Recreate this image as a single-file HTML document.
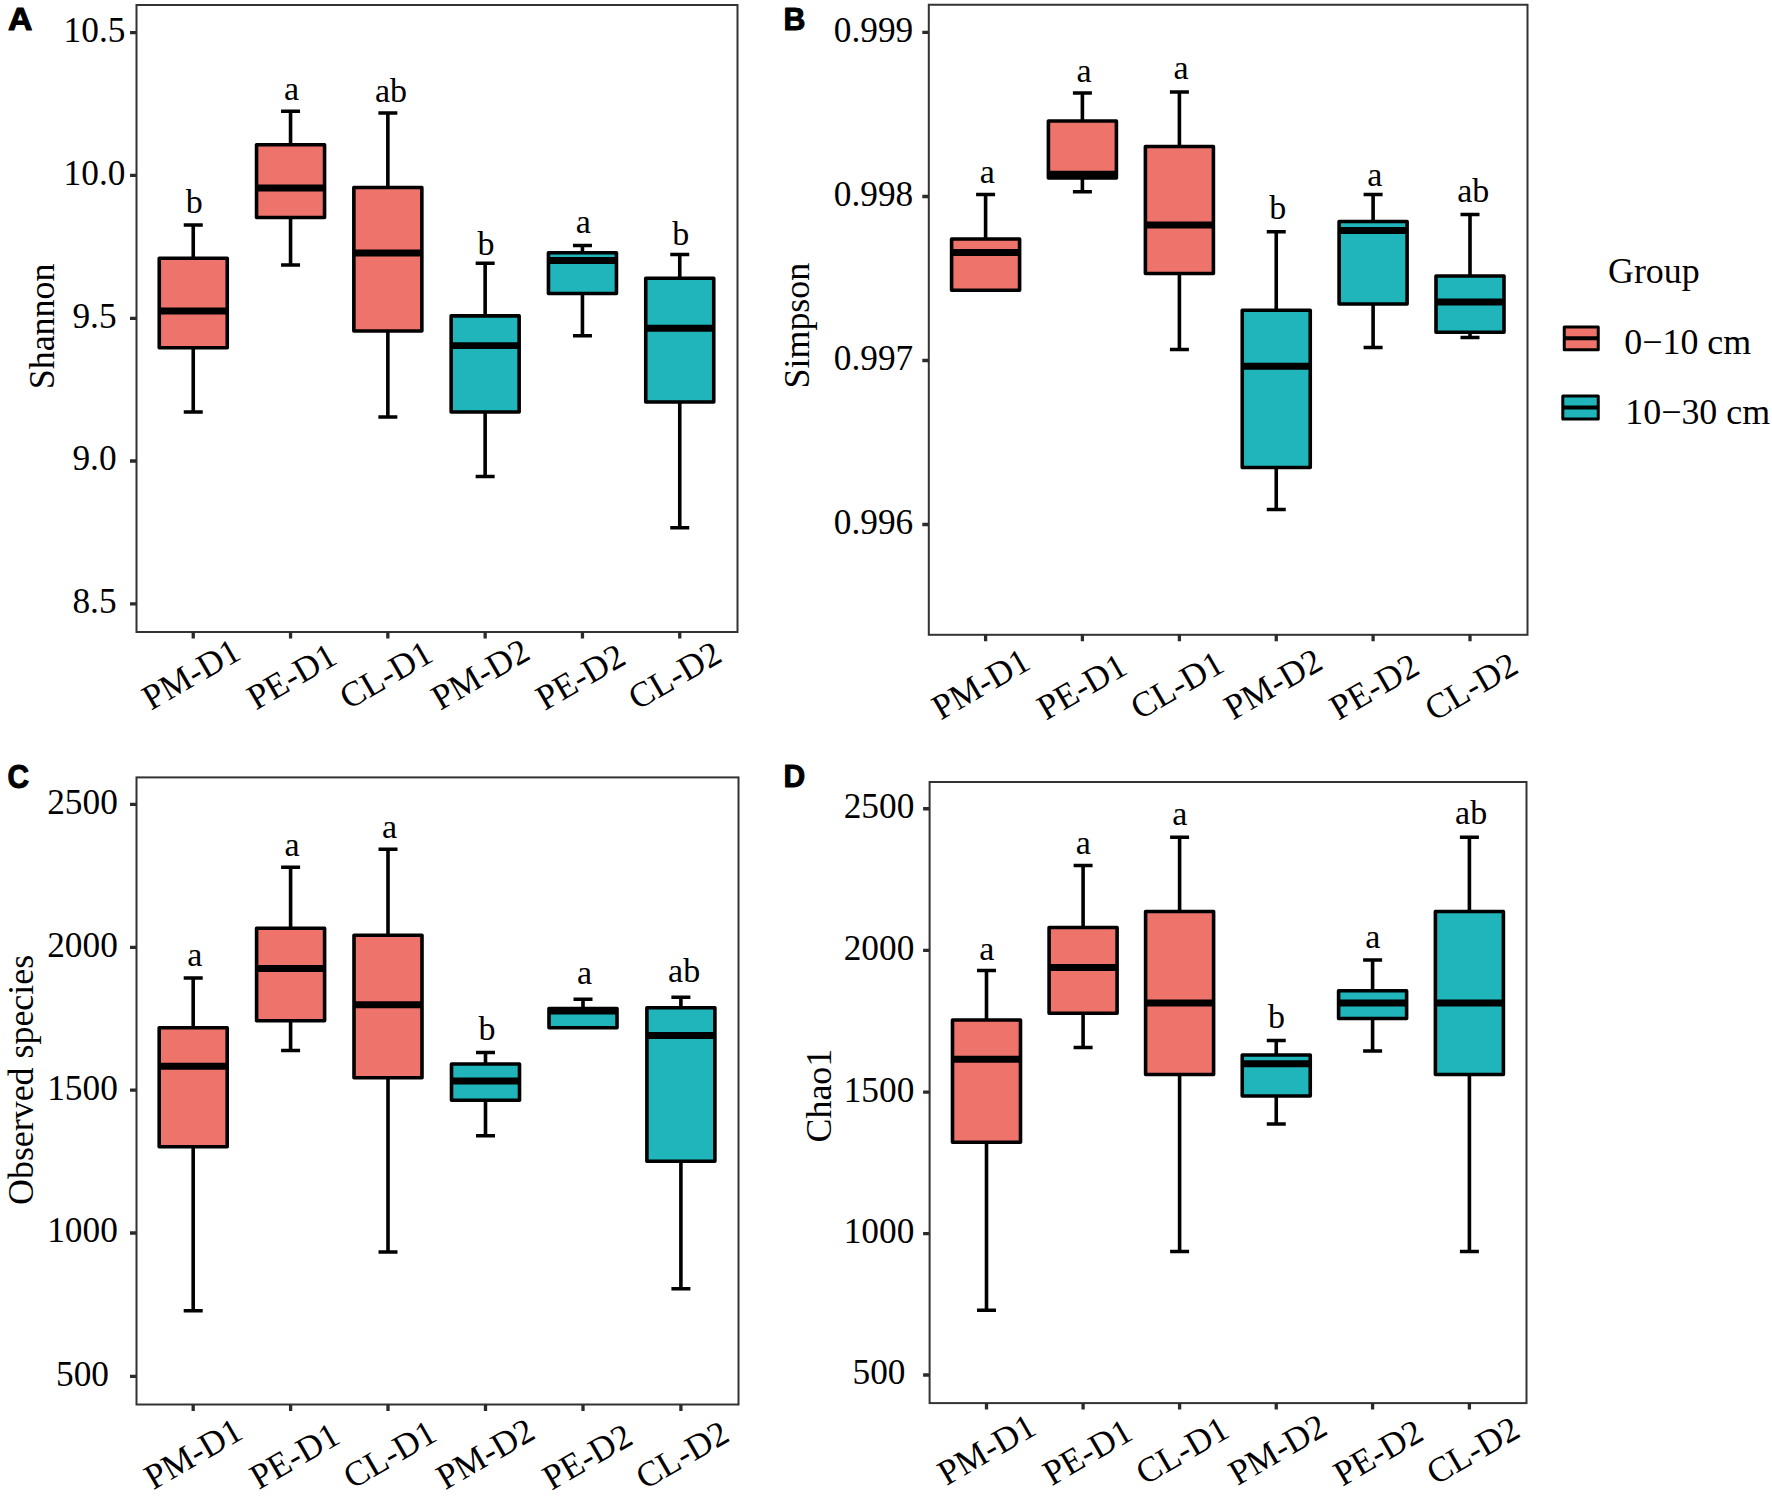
<!DOCTYPE html>
<html lang="en">
<head>
<meta charset="utf-8">
<title>Alpha diversity boxplots</title>
<style>
html,body{margin:0;padding:0;background:#fff;}
body{width:1772px;height:1496px;overflow:hidden;}
svg{display:block;}
text.s{font-family:"Liberation Serif", "DejaVu Serif", serif;font-size:35.3px;fill:#000;}
text.l{font-family:"Liberation Serif", "DejaVu Serif", serif;font-size:34px;fill:#000;}
text.t{font-family:"Liberation Serif", "DejaVu Serif", serif;font-size:35.9px;fill:#000;}
text.tag{font-family:"Liberation Sans", "DejaVu Sans", sans-serif;font-weight:bold;font-size:31px;fill:#000;stroke:#000;stroke-width:1px;stroke-linejoin:round;}
</style>
</head>
<body>
<svg width="1772" height="1496" viewBox="0 0 1772 1496">
<rect x="0" y="0" width="1772" height="1496" fill="#fff"/>
<g id="panelA">
<g stroke="#000" stroke-width="3.6" fill="none"><path d="M183.75 225H202.75M193.25 225V258.25"/><path d="M183.75 412H202.75M193.25 412V347.75"/><rect x="159.25" y="258.25" width="68" height="89.5" fill="#ED736B" stroke-linejoin="round"/><path d="M159.25 311H227.25" stroke-width="6.8"/></g>
<text class="l" x="194.15" y="212.9" text-anchor="middle">b</text>
<g stroke="#000" stroke-width="3.6" fill="none"><path d="M281.05 111.25H300.05M290.55 111.25V144.75"/><path d="M281.05 265H300.05M290.55 265V217.5"/><rect x="256.55" y="144.75" width="68" height="72.75" fill="#ED736B" stroke-linejoin="round"/><path d="M256.55 188H324.55" stroke-width="6.8"/></g>
<text class="l" x="291.45" y="99.95" text-anchor="middle">a</text>
<g stroke="#000" stroke-width="3.6" fill="none"><path d="M378.35 113H397.35M387.85 113V187.5"/><path d="M378.35 417H397.35M387.85 417V331"/><rect x="353.85" y="187.5" width="68" height="143.5" fill="#ED736B" stroke-linejoin="round"/><path d="M353.85 253H421.85" stroke-width="6.8"/></g>
<text class="l" x="391.05" y="101.7" text-anchor="middle">ab</text>
<g stroke="#000" stroke-width="3.6" fill="none"><path d="M475.65 263.2H494.65M485.15 263.2V315.9"/><path d="M475.65 476.5H494.65M485.15 476.5V412"/><rect x="451.15" y="315.9" width="68" height="96.1" fill="#1FB5BA" stroke-linejoin="round"/><path d="M451.15 345.7H519.15" stroke-width="6.8"/></g>
<text class="l" x="486.05" y="255.2" text-anchor="middle">b</text>
<g stroke="#000" stroke-width="3.6" fill="none"><path d="M572.95 245.5H591.95M582.45 245.5V252.75"/><path d="M572.95 335.75H591.95M582.45 335.75V293.5"/><rect x="548.45" y="252.75" width="68" height="40.75" fill="#1FB5BA" stroke-linejoin="round"/><path d="M548.45 260.5H616.45" stroke-width="6.8"/></g>
<text class="l" x="583.35" y="233.2" text-anchor="middle">a</text>
<g stroke="#000" stroke-width="3.6" fill="none"><path d="M670.25 254.5H689.25M679.75 254.5V278.25"/><path d="M670.25 527.75H689.25M679.75 527.75V402"/><rect x="645.75" y="278.25" width="68" height="123.75" fill="#1FB5BA" stroke-linejoin="round"/><path d="M645.75 328.25H713.75" stroke-width="6.8"/></g>
<text class="l" x="680.65" y="245.2" text-anchor="middle">b</text>
<rect x="136.5" y="5" width="601" height="627" fill="none" stroke="#333" stroke-width="2"/>
<path d="M130 32.6H136.5M130 175.4H136.5M130 318.3H136.5M130 461H136.5M130 603.8H136.5M193.25 632V638.5M290.55 632V638.5M387.85 632V638.5M485.15 632V638.5M582.45 632V638.5M679.75 632V638.5" stroke="#2b2b2b" stroke-width="3.3" fill="none"/>
<text class="s" x="94.5" y="41.9" text-anchor="middle">10.5</text>
<text class="s" x="94.5" y="184.7" text-anchor="middle">10.0</text>
<text class="s" x="94.5" y="327.6" text-anchor="middle">9.5</text>
<text class="s" x="94.5" y="470.3" text-anchor="middle">9.0</text>
<text class="s" x="94.5" y="613.1" text-anchor="middle">8.5</text>
<text class="s" transform="translate(242.8 657.9) rotate(-30)" text-anchor="end">PM-D1</text>
<text class="s" transform="translate(339.1 662.4) rotate(-30)" text-anchor="end">PE-D1</text>
<text class="s" transform="translate(435.1 660) rotate(-30)" text-anchor="end">CL-D1</text>
<text class="s" transform="translate(532 657.9) rotate(-30)" text-anchor="end">PM-D2</text>
<text class="s" transform="translate(627.9 662.9) rotate(-30)" text-anchor="end">PE-D2</text>
<text class="s" transform="translate(723.9 660.5) rotate(-30)" text-anchor="end">CL-D2</text>
<text class="t" transform="translate(54.1 326.4) rotate(-90)" text-anchor="middle">Shannon</text>
<text class="tag" transform="translate(8 30) scale(1.09 1)">A</text>
</g>
<g id="panelB">
<g stroke="#000" stroke-width="3.6" fill="none"><path d="M976.1 194.5H995.1M985.6 194.5V239"/><rect x="951.6" y="239" width="68" height="51.25" fill="#ED736B" stroke-linejoin="round"/><path d="M951.6 252.5H1019.6" stroke-width="6.8"/></g>
<text class="l" x="987.2" y="183.2" text-anchor="middle">a</text>
<g stroke="#000" stroke-width="3.6" fill="none"><path d="M1072.9 93H1091.9M1082.4 93V121"/><path d="M1072.9 191.75H1091.9M1082.4 191.75V178"/><rect x="1048.4" y="121" width="68" height="57" fill="#ED736B" stroke-linejoin="round"/><path d="M1048.4 174.25H1116.4" stroke-width="6.8"/></g>
<text class="l" x="1084" y="81.7" text-anchor="middle">a</text>
<g stroke="#000" stroke-width="3.6" fill="none"><path d="M1169.9 92H1188.9M1179.4 92V146.5"/><path d="M1169.9 349.5H1188.9M1179.4 349.5V273.5"/><rect x="1145.4" y="146.5" width="68" height="127" fill="#ED736B" stroke-linejoin="round"/><path d="M1145.4 225H1213.4" stroke-width="6.8"/></g>
<text class="l" x="1181" y="78.7" text-anchor="middle">a</text>
<g stroke="#000" stroke-width="3.6" fill="none"><path d="M1266.75 231.75H1285.75M1276.25 231.75V310.25"/><path d="M1266.75 509.5H1285.75M1276.25 509.5V467.5"/><rect x="1242.25" y="310.25" width="68" height="157.25" fill="#1FB5BA" stroke-linejoin="round"/><path d="M1242.25 366.25H1310.25" stroke-width="6.8"/></g>
<text class="l" x="1277.85" y="219.15" text-anchor="middle">b</text>
<g stroke="#000" stroke-width="3.6" fill="none"><path d="M1363.6 194.5H1382.6M1373.1 194.5V221.5"/><path d="M1363.6 347.5H1382.6M1373.1 347.5V304"/><rect x="1339.1" y="221.5" width="68" height="82.5" fill="#1FB5BA" stroke-linejoin="round"/><path d="M1339.1 230.5H1407.1" stroke-width="6.8"/></g>
<text class="l" x="1374.7" y="185.7" text-anchor="middle">a</text>
<g stroke="#000" stroke-width="3.6" fill="none"><path d="M1460.5 214.5H1479.5M1470 214.5V276"/><path d="M1460.5 337.5H1479.5M1470 337.5V332.25"/><rect x="1436" y="276" width="68" height="56.25" fill="#1FB5BA" stroke-linejoin="round"/><path d="M1436 302H1504" stroke-width="6.8"/></g>
<text class="l" x="1473.2" y="201.8" text-anchor="middle">ab</text>
<rect x="928.8" y="4.75" width="598.7" height="630.05" fill="none" stroke="#333" stroke-width="2"/>
<path d="M922.3 32.3H928.8M922.3 196.5H928.8M922.3 360.5H928.8M922.3 524.5H928.8M985.6 634.8V641.3M1082.4 634.8V641.3M1179.4 634.8V641.3M1276.25 634.8V641.3M1373.1 634.8V641.3M1470 634.8V641.3" stroke="#2b2b2b" stroke-width="3.3" fill="none"/>
<text class="s" x="873.5" y="41.6" text-anchor="middle">0.999</text>
<text class="s" x="873.5" y="205.8" text-anchor="middle">0.998</text>
<text class="s" x="873.5" y="369.8" text-anchor="middle">0.997</text>
<text class="s" x="873.5" y="533.8" text-anchor="middle">0.996</text>
<text class="s" transform="translate(1032.4 667.6) rotate(-30)" text-anchor="end">PM-D1</text>
<text class="s" transform="translate(1129.2 672.7) rotate(-30)" text-anchor="end">PE-D1</text>
<text class="s" transform="translate(1226.2 670.2) rotate(-30)" text-anchor="end">CL-D1</text>
<text class="s" transform="translate(1324.75 667.6) rotate(-30)" text-anchor="end">PM-D2</text>
<text class="s" transform="translate(1421.6 672.7) rotate(-30)" text-anchor="end">PE-D2</text>
<text class="s" transform="translate(1520.3 671.7) rotate(-30)" text-anchor="end">CL-D2</text>
<text class="t" transform="translate(809.4 325.6) rotate(-90)" text-anchor="middle">Simpson</text>
<text class="tag" transform="translate(783.6 29.6) scale(0.977 1)">B</text>
</g>
<g id="panelC">
<g stroke="#000" stroke-width="3.6" fill="none"><path d="M183.7 978H202.7M193.2 978V1027.75"/><path d="M183.7 1310.75H202.7M193.2 1310.75V1146.75"/><rect x="159.2" y="1027.75" width="68" height="119" fill="#ED736B" stroke-linejoin="round"/><path d="M159.2 1066.25H227.2" stroke-width="6.8"/></g>
<text class="l" x="194.7" y="965.7" text-anchor="middle">a</text>
<g stroke="#000" stroke-width="3.6" fill="none"><path d="M281.1 867.25H300.1M290.6 867.25V928.25"/><path d="M281.1 1050.5H300.1M290.6 1050.5V1020.75"/><rect x="256.6" y="928.25" width="68" height="92.5" fill="#ED736B" stroke-linejoin="round"/><path d="M256.6 968.5H324.6" stroke-width="6.8"/></g>
<text class="l" x="292.1" y="855.95" text-anchor="middle">a</text>
<g stroke="#000" stroke-width="3.6" fill="none"><path d="M378.5 849.25H397.5M388 849.25V935.25"/><path d="M378.5 1252H397.5M388 1252V1077.75"/><rect x="354" y="935.25" width="68" height="142.5" fill="#ED736B" stroke-linejoin="round"/><path d="M354 1004.75H422" stroke-width="6.8"/></g>
<text class="l" x="389.5" y="837.95" text-anchor="middle">a</text>
<g stroke="#000" stroke-width="3.6" fill="none"><path d="M476 1052.5H495M485.5 1052.5V1064"/><path d="M476 1135.75H495M485.5 1135.75V1100.25"/><rect x="451.5" y="1064" width="68" height="36.25" fill="#1FB5BA" stroke-linejoin="round"/><path d="M451.5 1081H519.5" stroke-width="6.8"/></g>
<text class="l" x="487" y="1039.5" text-anchor="middle">b</text>
<g stroke="#000" stroke-width="3.6" fill="none"><path d="M573.5 999.2H592.5M583 999.2V1008.5"/><rect x="549" y="1008.5" width="68" height="19.2" fill="#1FB5BA" stroke-linejoin="round"/><path d="M549 1011H617" stroke-width="6.8"/></g>
<text class="l" x="584.5" y="984.2" text-anchor="middle">a</text>
<g stroke="#000" stroke-width="3.6" fill="none"><path d="M671.4 997.25H690.4M680.9 997.25V1007.75"/><path d="M671.4 1288.75H690.4M680.9 1288.75V1161.25"/><rect x="646.9" y="1007.75" width="68" height="153.5" fill="#1FB5BA" stroke-linejoin="round"/><path d="M646.9 1035.5H714.9" stroke-width="6.8"/></g>
<text class="l" x="684.1" y="982.05" text-anchor="middle">ab</text>
<rect x="136.5" y="777.4" width="602" height="627.1" fill="none" stroke="#333" stroke-width="2"/>
<path d="M130 804.3H136.5M130 947.3H136.5M130 1090.2H136.5M130 1233H136.5M130 1376.3H136.5M193.2 1404.5V1411M290.6 1404.5V1411M388 1404.5V1411M485.5 1404.5V1411M583 1404.5V1411M680.9 1404.5V1411" stroke="#2b2b2b" stroke-width="3.3" fill="none"/>
<text class="s" x="82.5" y="813.6" text-anchor="middle">2500</text>
<text class="s" x="82.5" y="956.6" text-anchor="middle">2000</text>
<text class="s" x="82.5" y="1099.5" text-anchor="middle">1500</text>
<text class="s" x="82.5" y="1242.3" text-anchor="middle">1000</text>
<text class="s" x="82.5" y="1385.6" text-anchor="middle">500</text>
<text class="s" transform="translate(244.9 1437.3) rotate(-30)" text-anchor="end">PM-D1</text>
<text class="s" transform="translate(342 1442) rotate(-30)" text-anchor="end">PE-D1</text>
<text class="s" transform="translate(438.9 1439.5) rotate(-30)" text-anchor="end">CL-D1</text>
<text class="s" transform="translate(537.1 1437.3) rotate(-30)" text-anchor="end">PM-D2</text>
<text class="s" transform="translate(634.7 1442.8) rotate(-30)" text-anchor="end">PE-D2</text>
<text class="s" transform="translate(731.3 1439.9) rotate(-30)" text-anchor="end">CL-D2</text>
<text class="t" transform="translate(33.1 1079.9) rotate(-90)" text-anchor="middle">Observed species</text>
<text class="tag" transform="translate(7.5 787.7) scale(0.963 1.058)">C</text>
</g>
<g id="panelD">
<g stroke="#000" stroke-width="3.6" fill="none"><path d="M977 970.5H996M986.5 970.5V1020"/><path d="M977 1310.25H996M986.5 1310.25V1142.25"/><rect x="952.5" y="1020" width="68" height="122.25" fill="#ED736B" stroke-linejoin="round"/><path d="M952.5 1059.25H1020.5" stroke-width="6.8"/></g>
<text class="l" x="986.8" y="960" text-anchor="middle">a</text>
<g stroke="#000" stroke-width="3.6" fill="none"><path d="M1073.6 865.5H1092.6M1083.1 865.5V927.5"/><path d="M1073.6 1047.5H1092.6M1083.1 1047.5V1013.25"/><rect x="1049.1" y="927.5" width="68" height="85.75" fill="#ED736B" stroke-linejoin="round"/><path d="M1049.1 967.5H1117.1" stroke-width="6.8"/></g>
<text class="l" x="1083.4" y="854.2" text-anchor="middle">a</text>
<g stroke="#000" stroke-width="3.6" fill="none"><path d="M1170.1 837.25H1189.1M1179.6 837.25V911.5"/><path d="M1170.1 1251.5H1189.1M1179.6 1251.5V1074.5"/><rect x="1145.6" y="911.5" width="68" height="163" fill="#ED736B" stroke-linejoin="round"/><path d="M1145.6 1003H1213.6" stroke-width="6.8"/></g>
<text class="l" x="1179.9" y="825.15" text-anchor="middle">a</text>
<g stroke="#000" stroke-width="3.6" fill="none"><path d="M1266.75 1040.5H1285.75M1276.25 1040.5V1055"/><path d="M1266.75 1124H1285.75M1276.25 1124V1096"/><rect x="1242.25" y="1055" width="68" height="41" fill="#1FB5BA" stroke-linejoin="round"/><path d="M1242.25 1063.75H1310.25" stroke-width="6.8"/></g>
<text class="l" x="1276.55" y="1027.9" text-anchor="middle">b</text>
<g stroke="#000" stroke-width="3.6" fill="none"><path d="M1363.1 960H1382.1M1372.6 960V990.75"/><path d="M1363.1 1051H1382.1M1372.6 1051V1018.5"/><rect x="1338.6" y="990.75" width="68" height="27.75" fill="#1FB5BA" stroke-linejoin="round"/><path d="M1338.6 1003H1406.6" stroke-width="6.8"/></g>
<text class="l" x="1372.9" y="947.7" text-anchor="middle">a</text>
<g stroke="#000" stroke-width="3.6" fill="none"><path d="M1459.9 837.25H1478.9M1469.4 837.25V911.5"/><path d="M1459.9 1251.5H1478.9M1469.4 1251.5V1074.5"/><rect x="1435.4" y="911.5" width="68" height="163" fill="#1FB5BA" stroke-linejoin="round"/><path d="M1435.4 1003H1503.4" stroke-width="6.8"/></g>
<text class="l" x="1471.1" y="824.15" text-anchor="middle">ab</text>
<rect x="929.6" y="782" width="596.9" height="621.1" fill="none" stroke="#333" stroke-width="2"/>
<path d="M923.1 808.75H929.6M923.1 950.4H929.6M923.1 1092.2H929.6M923.1 1233.6H929.6M923.1 1375H929.6M986.5 1403.1V1409.6M1083.1 1403.1V1409.6M1179.6 1403.1V1409.6M1276.25 1403.1V1409.6M1372.6 1403.1V1409.6M1469.4 1403.1V1409.6" stroke="#2b2b2b" stroke-width="3.3" fill="none"/>
<text class="s" x="879" y="818.05" text-anchor="middle">2500</text>
<text class="s" x="879" y="959.7" text-anchor="middle">2000</text>
<text class="s" x="879" y="1101.5" text-anchor="middle">1500</text>
<text class="s" x="879" y="1242.9" text-anchor="middle">1000</text>
<text class="s" x="879" y="1384.3" text-anchor="middle">500</text>
<text class="s" transform="translate(1038.3 1433.1) rotate(-30)" text-anchor="end">PM-D1</text>
<text class="s" transform="translate(1134.9 1438.1) rotate(-30)" text-anchor="end">PE-D1</text>
<text class="s" transform="translate(1231.4 1435.6) rotate(-30)" text-anchor="end">CL-D1</text>
<text class="s" transform="translate(1329.25 1433.1) rotate(-30)" text-anchor="end">PM-D2</text>
<text class="s" transform="translate(1425.6 1438.6) rotate(-30)" text-anchor="end">PE-D2</text>
<text class="s" transform="translate(1522 1435.6) rotate(-30)" text-anchor="end">CL-D2</text>
<text class="t" transform="translate(831.2 1095.6) rotate(-90)" text-anchor="middle">Chao1</text>
<text class="tag" transform="translate(783.6 786.8) scale(0.97 1)">D</text>
</g>
<g id="legend">
<text class="t" x="1608" y="282.7">Group</text>
<rect x="1564.25" y="327" width="34" height="22.75" fill="#ED736B" stroke="#000" stroke-width="3" stroke-linejoin="round"/>
<path d="M1564.25 338.3H1598.25" stroke="#000" stroke-width="3.9"/>
<text class="t" x="1624.3" y="354">0−10 cm</text>
<rect x="1562.8" y="396" width="35.45" height="23" fill="#1FB5BA" stroke="#000" stroke-width="3" stroke-linejoin="round"/>
<path d="M1562.8 407.5H1598.25" stroke="#000" stroke-width="3.9"/>
<text class="t" x="1625.3" y="423.5">10−30 cm</text>
</g>
</svg>
</body>
</html>
